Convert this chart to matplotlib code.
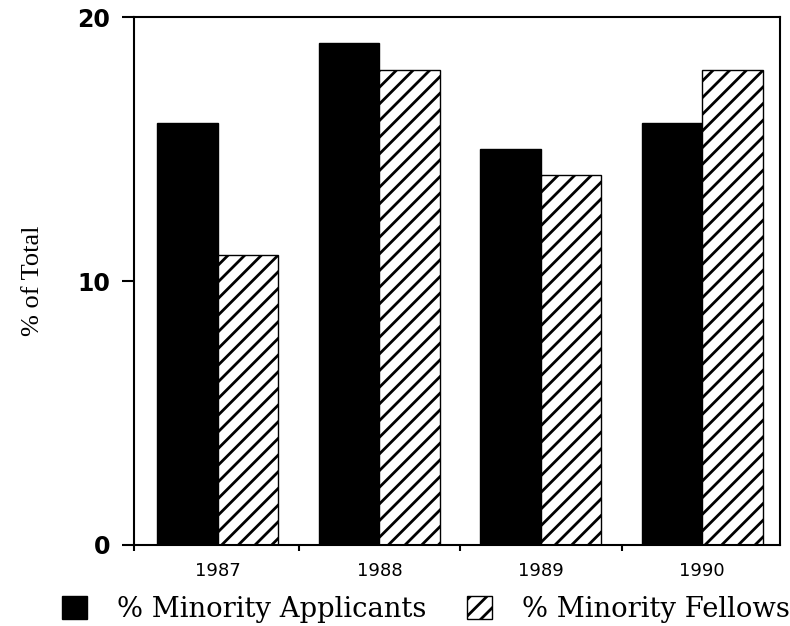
import numpy as np
import matplotlib.pyplot as plt
from matplotlib.patches import Patch

years = ["1987", "1988", "1989", "1990"]
applicants = [16, 19, 15, 16]
fellows = [11, 18, 14, 18]

plt.rcParams['hatch.linewidth'] = 2.0

fig = plt.figure(figsize=(7.9, 6.26), dpi=100)
ax = fig.add_axes([0.1696, 0.1294, 0.8174, 0.8434])

x = np.arange(len(years))
w = 0.375
ax.bar(x - w/2, applicants, w, color="black", edgecolor="black", linewidth=1)
ax.bar(x + w/2, fellows, w, color="white", edgecolor="black", hatch="//", linewidth=1)

ax.set_xlim(-0.52, 3.48)
ax.set_ylim(0, 20)
ax.set_yticks([0, 10, 20])
ax.set_yticklabels(["0", "10", "20"], fontfamily="DejaVu Sans", fontweight="bold", fontsize=17)
ax.tick_params(axis="y", direction="out", length=9, width=1.5, pad=8)

ax.set_xticks(x)
ax.set_xticklabels(years, fontfamily="DejaVu Sans", fontsize=13)
ax.tick_params(axis="x", length=0, pad=12)
ax.set_xticks([-0.52, 0.5, 1.5, 2.5], minor=True)
ax.tick_params(axis="x", which="minor", direction="out", length=4, width=1.5)

for s in ax.spines.values():
    s.set_linewidth(1.5)

ax.set_ylabel("% of Total", fontfamily="Liberation Serif", fontsize=19, labelpad=24)

handles = [Patch(facecolor="black", edgecolor="black"),
           Patch(facecolor="white", edgecolor="black", hatch="//")]
fig.legend(handles, ["% Minority Applicants", "% Minority Fellows"], loc="center",
           bbox_to_anchor=(0.539, 0.026), ncol=2, frameon=False,
           prop={"family": "DejaVu Serif", "size": 19.7}, handlelength=0.9, handleheight=0.9,
           handletextpad=1.1, columnspacing=1.5)

fig.savefig("out.png", dpi=100)
